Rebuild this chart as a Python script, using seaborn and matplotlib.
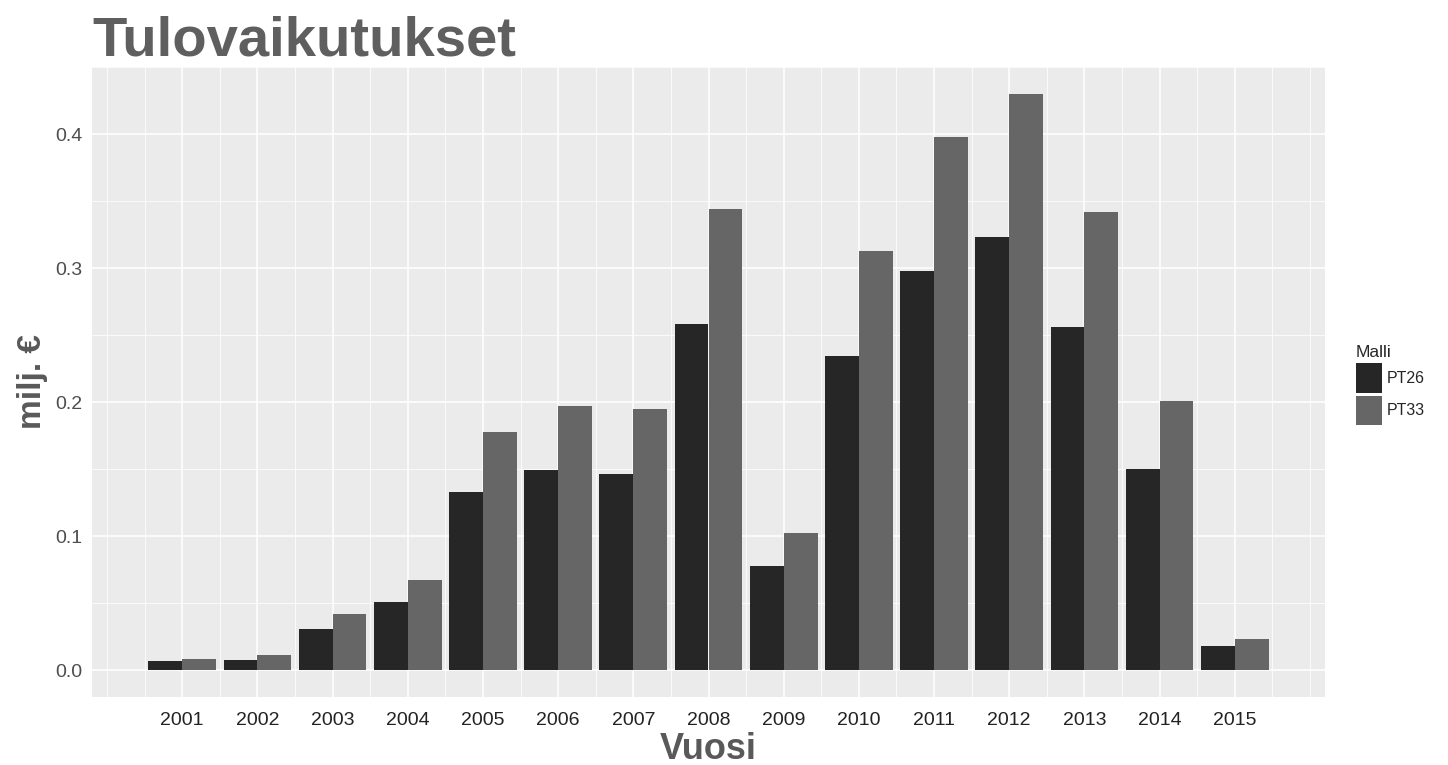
import numpy as np
import pandas as pd
import matplotlib
matplotlib.use("Agg")
import matplotlib.pyplot as plt
import seaborn as sns
from matplotlib.patches import Patch

years = list(range(2001, 2016))
pt26 = [0.0068, 0.0075, 0.031, 0.051, 0.133, 0.149, 0.146, 0.258, 0.078, 0.234, 0.298, 0.323, 0.256, 0.150, 0.018]
pt33 = [0.0080, 0.011, 0.042, 0.067, 0.178, 0.197, 0.195, 0.344, 0.102, 0.313, 0.398, 0.430, 0.342, 0.201, 0.023]
models = ["PT26", "PT33"]
colors = ["#262626", "#666666"]

df = pd.DataFrame({
    "Vuosi": years * 2,
    "value": pt26 + pt33,
    "Malli": ["PT26"] * len(years) + ["PT33"] * len(years),
})

sns.set_style("white")
plt.rcParams["font.family"] = ["Liberation Sans", "DejaVu Sans"]

fig = plt.figure(figsize=(14.48, 7.65), dpi=100)
ax = fig.add_axes([92 / 1448, 1 - 697 / 765, (1325 - 92) / 1448, (697 - 67) / 765])
ax.set_facecolor("#EBEBEB")

sns.barplot(data=df, x="Vuosi", y="value", hue="Malli", native_scale=True,
            width=0.9, palette=colors, hue_order=models, ax=ax,
            edgecolor="none", linewidth=0, legend=False, zorder=3)

ax.set_xlim(1999.8, 2016.2)
ax.set_ylim(-0.0201, 0.45)
ax.set_xticks(years)
ax.set_xticklabels([str(y) for y in years])
ax.set_xticks([y for y in np.arange(2000, 2016.01, 0.5) if y not in years], minor=True)
ax.set_yticks([0.0, 0.1, 0.2, 0.3, 0.4])
ax.set_yticklabels(["0.0", "0.1", "0.2", "0.3", "0.4"])
ax.set_yticks([0.05, 0.15, 0.25, 0.35, 0.45], minor=True)

ax.grid(which="major", color="white", linewidth=1.1, zorder=0)
ax.grid(which="minor", color="white", linewidth=0.55, zorder=0)
ax.set_axisbelow(True)
for s in ax.spines.values():
    s.set_visible(False)

ax.tick_params(axis="x", which="major", length=4, width=1, color="#333333",
               labelsize=14, labelcolor="#222222", direction="out", pad=7)
ax.tick_params(axis="y", which="major", length=4, width=1, color="#333333",
               labelsize=14, labelcolor="#4D4D4D", direction="out", pad=3)
ax.tick_params(axis="both", which="minor", length=0)

ax.set_xlabel("Vuosi", fontsize=26, fontweight="bold", color="#595959", labelpad=2)
ax.set_ylabel("milj. €", fontsize=24, fontweight="bold", color="#595959", labelpad=5)

fig.text(92 / 1448, 1 - 55 / 765, "Tulovaikutukset", fontsize=40.5, fontweight="bold",
         color="#5F5F5F", ha="left", va="baseline")

handles = [Patch(facecolor=c, edgecolor="none") for c in colors]
leg = fig.legend(handles, models, title="Malli", loc="upper left",
                 bbox_to_anchor=(1356 / 1448, 1 - 345 / 765), frameon=False,
                 fontsize=11.5, title_fontsize=12.5, handlelength=1.65, handleheight=2.45,
                 handletextpad=0.3, labelspacing=0.2, alignment="left", borderpad=0,
                 borderaxespad=0)

fig.savefig("out.png", dpi=100)
